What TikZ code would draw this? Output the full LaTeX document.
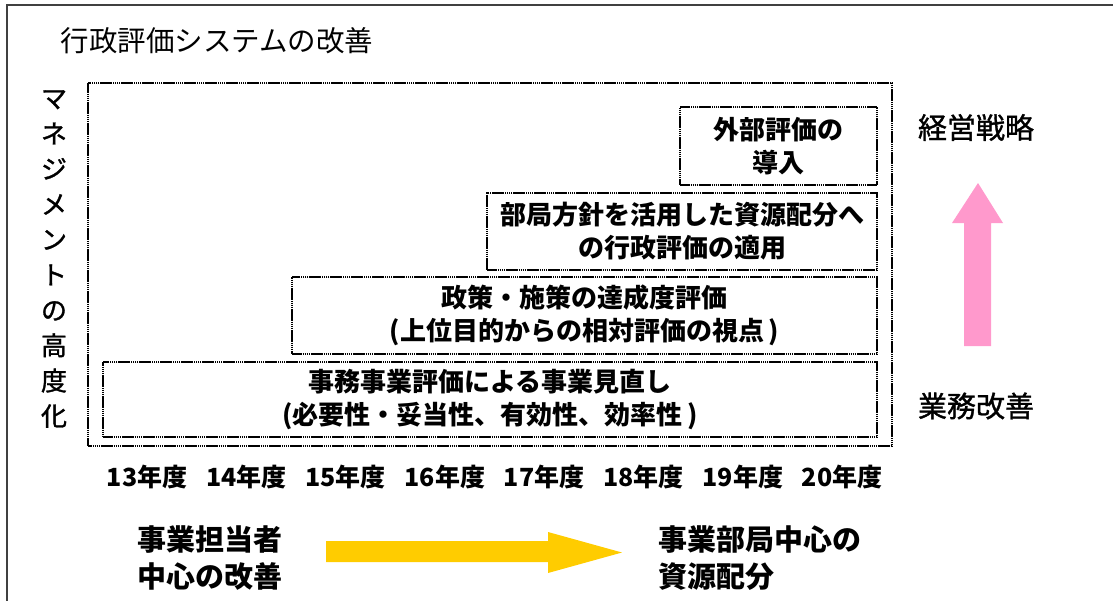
\documentclass[tikz,border=0pt]{standalone}
\usepackage{fontspec}
\newfontfamily\jp{Noto Sans CJK JP}
\newfontfamily\jpmed{Noto Sans CJK JP}[FakeBold=1.2]
\definecolor{arrowyellow}{HTML}{FFCC00}
\definecolor{arrowpink}{HTML}{FF99CC}
\definecolor{framegray}{HTML}{404040}
\tikzset{
  dotbox/.style={draw=black, line width=2pt, dash pattern=on 1.6pt off 0.5pt},
  stagebox/.style={dotbox, inner sep=0pt, align=center, font=\jp\bfseries\fontsize{26}{33}\selectfont},
  yearlbl/.style={font=\jp\bfseries\fontsize{25}{30}\selectfont},
  sidelbl/.style={font=\jpmed\fontsize{29}{34}\selectfont},
  bottomlbl/.style={font=\jp\bfseries\fontsize{29}{37}\selectfont, align=left, anchor=west},
}
\begin{document}
\begin{tikzpicture}[x=1pt,y=-1pt]
\useasboundingbox (0,0) rectangle (1113,600);
% outer frame (extends beyond the picture)
\draw[framegray, line width=1.5pt] (1120,5) -- (7,5) -- (7,610);
% title
\node[font=\jp\fontsize{28.5}{34}\selectfont] (title) at (217,41) {行政評価システムの改善};
% vertical label
\node[font=\jpmed\fontsize{26}{35.3}\selectfont, align=center] (vlabel) at (54,259)
  {マ\\ネ\\ジ\\メ\\ン\\ト\\の\\高\\度\\化};
% outer dotted box
\draw[dotbox] (88,83) rectangle (892,446);
% stage boxes
\node[stagebox, minimum width=197, minimum height=78] (b1) at (778.5,146) {外部評価の\\導入};
\node[stagebox, minimum width=390, minimum height=77] (b2) at (682,231.5) {部局方針を活用した資源配分へ\\の行政評価の適用};
\node[stagebox, minimum width=585, minimum height=77] (b3) at (584.5,315.5) {政策・施策の達成度評価\\(上位目的からの相対評価の視点\,)};
\node[stagebox, minimum width=774, minimum height=75] (b4) at (490,399.5) {事務事業評価による事業見直し\\(必要性・妥当性、有効性、効率性\,)};
% years
\foreach \i/\y in {0/13,1/14,2/15,3/16,4/17,5/18,6/19,7/20}{
  \node[yearlbl] (y\y) at ({147+99.3*\i},477) {\y 年度};
}
% right side
\node[sidelbl] (strat) at (976,127.5) {経営戦略};
\node[sidelbl] (impr) at (976,406) {業務改善};
\fill[arrowpink] (964,346) -- (991,346) -- (991,223) -- (1003,223) -- (978,183) -- (952,223) -- (964,223) -- cycle;
% bottom
\node[bottomlbl] (from) at (134,558) {事業担当者\\中心の改善};
\node[bottomlbl] (to) at (655,558) {事業部局中心の\\資源配分};
\fill[arrowyellow] (326,541) -- (548,541) -- (548,532) -- (622,552.5) -- (548,573) -- (548,562) -- (326,562) -- cycle;
\end{tikzpicture}
\end{document}
